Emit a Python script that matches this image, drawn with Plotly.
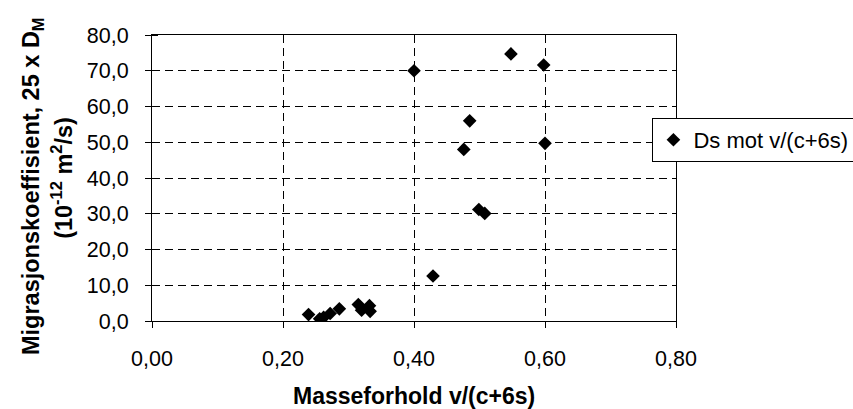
import plotly.graph_objects as go

x_vals = [0.239, 0.256, 0.262, 0.272, 0.286, 0.315, 0.320, 0.332, 0.333,
          0.400, 0.429, 0.476, 0.485, 0.499, 0.508, 0.548, 0.598, 0.600]
y_vals = [1.8, 0.6, 1.0, 2.1, 3.4, 4.6, 3.0, 4.3, 2.7,
          70.0, 12.6, 48.0, 56.0, 31.2, 30.1, 74.7, 71.6, 49.7]
series_name = "Ds mot v/(c+6s)"
x_title = "Masseforhold v/(c+6s)"
y_title_1 = "Migrasjonskoeffisient, 25 x D<sub>M</sub>"
y_title_2 = "(10<sup>-12</sup> m<sup>2</sup>/s)"

FONT = "Arial, Liberation Sans, sans-serif"

fig = go.Figure()
fig.add_trace(go.Scatter(
    x=x_vals, y=y_vals, mode="markers", name=series_name,
    marker=dict(symbol="diamond", size=10.5, color="black"),
    showlegend=True,
))

fig.update_layout(
    width=853, height=409,
    margin=dict(l=152, r=177, t=35, b=88, autoexpand=False),
    paper_bgcolor="white", plot_bgcolor="white",
    separators=", ",
    font=dict(family=FONT, size=21, color="black"),
    showlegend=True,
    legend=dict(
        x=0.955, y=0.71, xanchor="left", yanchor="top",
        bordercolor="black", borderwidth=1, bgcolor="white",
        font=dict(size=22, color="black"),
        itemwidth=30,
    ),
)

fig.update_xaxes(
    range=[0, 0.8], dtick=0.2, tick0=0, tickformat=".2f",
    showline=True, linecolor="black", linewidth=1, mirror=True,
    ticks="outside", ticklen=6, tickcolor="black",
    showgrid=True, gridcolor="black", gridwidth=1, griddash="8px,5px",
    zeroline=False, ticklabelstandoff=12,
    tickfont=dict(size=21.5),
)
fig.update_yaxes(
    range=[0, 80], dtick=10, tick0=0, tickformat=".1f",
    showline=True, linecolor="black", linewidth=1, mirror=True,
    ticks="outside", ticklen=6, tickcolor="black",
    minor=dict(dtick=10, ticks="inside", ticklen=6, tickcolor="black", showgrid=False),
    showgrid=True, gridcolor="black", gridwidth=1, griddash="8px,5px",
    zeroline=False, ticklabelstandoff=12,
    tickfont=dict(size=21.5),
)

fig.add_annotation(text="<b>" + x_title + "</b>", xref="paper", yref="paper",
                   x=0.5, y=-0.262, xanchor="center", yanchor="middle",
                   showarrow=False, font=dict(size=23))
fig.add_annotation(text="<b>" + y_title_1 + "</b>", xref="paper", yref="paper",
                   x=-0.229, y=0.472, xanchor="center", yanchor="middle",
                   textangle=-90, showarrow=False, font=dict(size=23.5))
fig.add_annotation(text="<b>" + y_title_2 + "</b>", xref="paper", yref="paper",
                   x=-0.172, y=0.5, xanchor="center", yanchor="middle",
                   textangle=-90, showarrow=False, font=dict(size=23.5))

fig.write_html("out.html")
